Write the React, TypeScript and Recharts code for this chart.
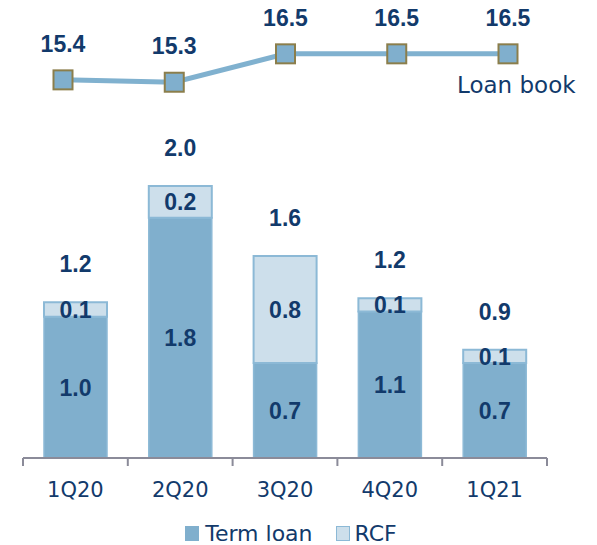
import {
  Bar,
  BarChart,
  LabelList,
  Legend,
  Line,
  LineChart,
  XAxis,
  YAxis,
} from 'recharts'

const quarters = ['1Q20', '2Q20', '3Q20', '4Q20', '1Q21']
const loanBook = [15.4, 15.3, 16.5, 16.5, 16.5]
const termLoan = [1.07, 1.82, 0.72, 1.11, 0.72]
const rcf = [0.11, 0.24, 0.81, 0.1, 0.1]
const termLabels = ['1.0', '1.8', '0.7', '1.1', '0.7']
const rcfLabels = ['0.1', '0.2', '0.8', '0.1', '0.1']
const totalLabels = ['1.2', '2.0', '1.6', '1.2', '0.9']

const NAVY = '#123a6b'
const TERM = '#80afcd'
const RCF_FILL = '#cddfeb'
const EDGE = '#8cb9d6'
const AXIS = '#8b8b99'
const regularFont = '"DejaVu Sans", sans-serif'
const boldFont = '"Liberation Sans", Arial, sans-serif'

const W = 597
const H = 545
const barMargin = { top: 62, right: 50, left: 23, bottom: 0 }
// width of one category band on the bar chart's x axis
const BAND = (W - barMargin.left - barMargin.right) / quarters.length

const lineData = quarters.map((q, i) => ({ quarter: q, loanBook: loanBook[i] }))
const barData = quarters.map((q, i) => ({
  quarter: q,
  term: termLoan[i],
  rcf: rcf[i],
  termLabel: termLabels[i],
  rcfLabel: rcfLabels[i],
  totalLabel: totalLabels[i],
}))

const SquareDot = (props: any) => {
  const { cx, cy, index } = props
  if (cx == null || cy == null) return null
  return (
    <rect
      key={`dot-${index}`}
      x={cx - 9.5}
      y={cy - 9.5}
      width={19}
      height={19}
      fill={TERM}
      stroke="#8b7e4b"
      strokeWidth={2}
    />
  )
}

// quarter label plus tick marks on the band edges
const QuarterTick = (props: any) => {
  const { x, y, payload, index } = props
  const last = index === quarters.length - 1
  return (
    <g>
      <line x1={x - BAND / 2} x2={x - BAND / 2} y1={y} y2={y + 8} stroke={AXIS} strokeWidth={2} />
      {last && <line x1={x + BAND / 2} x2={x + BAND / 2} y1={y} y2={y + 8} stroke={AXIS} strokeWidth={2} />}
      <text x={x} y={y + 39} textAnchor="middle" fontFamily={regularFont} fontSize={21} fill={NAVY}>
        {payload.value}
      </text>
    </g>
  )
}

const labelStyle = { fontFamily: boldFont, fontWeight: 700, fontSize: 23, fill: NAVY }

export default function App() {
  return (
    <div style={{ position: 'absolute', left: 0, top: 0, width: W, height: H, background: '#fff' }}>
      <div style={{ position: 'absolute', left: 0, top: 0 }}>
        <BarChart width={W} height={H} data={barData} margin={barMargin}>
          <XAxis
            dataKey="quarter"
            axisLine={{ stroke: AXIS, strokeWidth: 2 }}
            tickLine={false}
            tickSize={0}
            tickMargin={0}
            height={45}
            interval={0}
            tick={QuarterTick}
          />
          <YAxis hide domain={[0, 3]} />
          <Legend
            verticalAlign="bottom"
            wrapperStyle={{ left: 0, width: W }}
            content={() => (
              <div
                style={{
                  height: 42,
                  display: 'flex',
                  justifyContent: 'center',
                  alignItems: 'center',
                  paddingTop: 18,
                  boxSizing: 'border-box',
                  paddingRight: 15,
                  fontFamily: regularFont,
                  fontSize: 22,
                  color: NAVY,
                }}
              >
                <span style={{ width: 14, height: 15, background: TERM, marginRight: 6 }} />
                <span style={{ marginRight: 23 }}>Term loan</span>
                <span
                  style={{
                    width: 12,
                    height: 13,
                    background: RCF_FILL,
                    border: `1px solid ${EDGE}`,
                    marginRight: 5,
                  }}
                />
                <span>RCF</span>
              </div>
            )}
          />
          <Bar dataKey="term" stackId="a" barSize={63} fill={TERM} stroke={EDGE} strokeWidth={1.5} isAnimationActive={false}>
            <LabelList dataKey="termLabel" position="center" style={labelStyle} />
          </Bar>
          <Bar dataKey="rcf" stackId="a" barSize={63} fill={RCF_FILL} stroke={EDGE} strokeWidth={2} isAnimationActive={false}>
            <LabelList dataKey="rcfLabel" position="center" style={labelStyle} />
            <LabelList dataKey="totalLabel" position="top" offset={30} style={labelStyle} />
          </Bar>
        </BarChart>
      </div>
      <div style={{ position: 'absolute', left: 0, top: 0 }}>
        <LineChart width={W} height={120} data={lineData} margin={{ top: 42, right: 89, left: 63, bottom: 7 }}>
          <XAxis dataKey="quarter" hide scale="point" padding={{ left: 0, right: 0 }} />
          <YAxis hide domain={[14, 17]} />
          <Line
            dataKey="loanBook"
            name="Loan book"
            stroke="#80b1cf"
            strokeWidth={5}
            dot={SquareDot}
            activeDot={false}
            isAnimationActive={false}
          >
            <LabelList dataKey="loanBook" position="top" offset={28} style={labelStyle} formatter={(v: any) => Number(v).toFixed(1)} />
          </Line>
        </LineChart>
      </div>
      <div
        style={{
          position: 'absolute',
          left: 457,
          top: 72,
          fontFamily: regularFont,
          fontSize: 23,
          color: NAVY,
          whiteSpace: 'nowrap',
          lineHeight: '27px',
        }}
      >
        Loan book
      </div>
    </div>
  )
}
